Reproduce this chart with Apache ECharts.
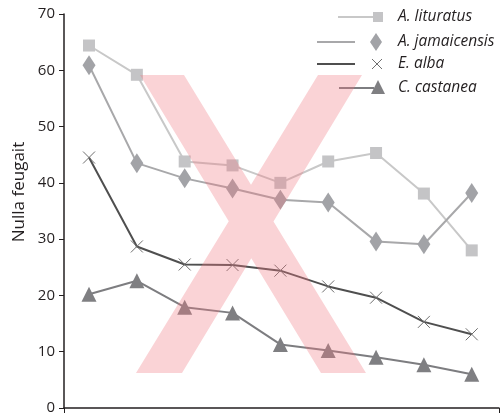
<!DOCTYPE html>
<html>
<head>
<meta charset="utf-8">
<script src="https://cdn.jsdelivr.net/npm/echarts@6/dist/echarts.min.js"></script>
<style>html,body{margin:0;padding:0;background:#fff}#c{width:504px;height:418px}</style>
</head>
<body>
<div id="c"></div>
<script>
var seriesNames = ['A. lituratus', 'A. jamaicensis', 'E. alba', 'C. castanea'];
var lituratus = [64.4, 59.2, 43.8, 43.1, 40.0, 43.8, 45.3, 38.1, 28.0];
var jamaicensis = [60.9, 43.5, 40.8, 39.0, 37.0, 36.5, 29.6, 29.1, 38.2];
var alba = [44.5, 28.7, 25.5, 25.4, 24.4, 21.6, 19.6, 15.3, 13.1];
var castanea = [20.2, 22.6, 17.9, 16.9, 11.3, 10.2, 9.0, 7.7, 6.0];
var yTicks = [0, 10, 20, 30, 40, 50, 60, 70];
var yName = 'Nulla feugait';

var FONT = '"Open Sans", "Noto Sans", sans-serif';
function pts(arr){ return arr.map(function(v,i){ return [i, v]; }); }
var xSym = 'path://M0,0L10,10M10,0L0,10';

var chart = echarts.init(document.getElementById('c'), null, {renderer:'canvas'});

// pink X decoration outline
function inter(a,b,c,d){
  var x1=a[0],y1=a[1],x2=b[0],y2=b[1],x3=c[0],y3=c[1],x4=d[0],y4=d[1];
  var den=(x1-x2)*(y3-y4)-(y1-y2)*(x3-x4);
  var t=((x1-x3)*(y3-y4)-(y1-y3)*(x3-x4))/den;
  return [x1+t*(x2-x1), y1+t*(y2-y1)];
}
var L1=[[140,75],[321,373]], R1=[[184,75],[366,373]];
var L2=[[318,75],[136,373]], R2=[[362,75],[182,373]];
var xPoly=[L1[0],R1[0],inter(R1[0],R1[1],L2[0],L2[1]),L2[0],R2[0],inter(R2[0],R2[1],R1[0],R1[1]),R1[1],L1[1],inter(L1[0],L1[1],R2[0],R2[1]),R2[1],L2[1],inter(L1[0],L1[1],L2[0],L2[1])];

var legendRows = [
  {y:17, x1:338, x2:374, sx:378, line:'#c8c8c8', sym:'rect', col:'#c4c4c6'},
  {y:42, x1:317, x2:355, sx:376, line:'#a8a8aa', sym:'diamond', col:'#a2a3a7'},
  {y:64, x1:317, x2:355, sx:377, line:'#4f4f4f', sym:'x', col:'#6f6f6f'},
  {y:88, x1:339, x2:374, sx:378, line:'#7d7d80', sym:'tri', col:'#7f7f82'}
];
var g = [];
legendRows.forEach(function(r, i){
  g.push({type:'line', shape:{x1:r.x1,y1:r.y,x2:r.x2,y2:r.y}, style:{stroke:r.line, lineWidth:2}, z:5});
  if (r.sym==='rect') g.push({type:'rect', shape:{x:r.sx-5,y:r.y-5,width:10,height:10}, style:{fill:r.col}, z:6});
  if (r.sym==='diamond') g.push({type:'polygon', shape:{points:[[r.sx,r.y-9],[r.sx+6,r.y],[r.sx,r.y+9],[r.sx-6,r.y]]}, style:{fill:r.col}, z:6});
  if (r.sym==='x') g.push({type:'polyline', shape:{points:[[r.sx-5,r.y-5],[r.sx+5,r.y+5]]}, style:{stroke:r.col, lineWidth:1}, z:6},
                          {type:'polyline', shape:{points:[[r.sx+5,r.y-5],[r.sx-5,r.y+5]]}, style:{stroke:r.col, lineWidth:1}, z:6});
  if (r.sym==='tri') g.push({type:'polygon', shape:{points:[[r.sx,r.y-8],[r.sx+7,r.y+6],[r.sx-7,r.y+6]]}, style:{fill:r.col}, z:6});
  g.push({type:'text', x:398, y:r.y, style:{text:seriesNames[i], font:'italic 15.5px '+FONT, fill:'#231f20', verticalAlign:'middle'}, z:6});
});
g.push({type:'text', x:19, y:192, rotation:Math.PI/2, style:{text:yName, font:'17px '+FONT, fill:'#231f20', align:'center', verticalAlign:'middle'}, z:6});
g.push({type:'polygon', shape:{points:xPoly}, style:{fill:'rgba(240,120,130,0.33)'}, z:100});

chart.setOption({
  animation:false,
  backgroundColor:'#fff',
  grid:{left:64, right:5, top:14, bottom:10},
  xAxis:{type:'value', min:-0.523, max:8.57, interval:9.093,
    axisLine:{onZero:false, lineStyle:{color:'#231f20', width:1.5}},
    axisTick:{show:true, length:5, lineStyle:{color:'#231f20'}},
    axisLabel:{show:false}, splitLine:{show:false}},
  yAxis:{type:'value', min:0, max:70, interval:10,
    axisLine:{show:true, onZero:false, lineStyle:{color:'#231f20', width:1.5}},
    axisTick:{show:true, length:5, lineStyle:{color:'#231f20'}},
    axisLabel:{fontSize:15, color:'#231f20', fontFamily:FONT, margin:9,
      formatter:function(v){ return yTicks.indexOf(v)>=0 ? String(v) : ''; }},
    splitLine:{show:false}},
  series:[
    {name:seriesNames[0], type:'line', data:pts(lituratus), symbol:'rect', symbolSize:12,
      lineStyle:{color:'#c8c8c8', width:2}, itemStyle:{color:'#c4c4c6'}, z:2},
    {name:seriesNames[1], type:'line', data:pts(jamaicensis), symbol:'diamond', symbolSize:[13,20],
      lineStyle:{color:'#a8a8aa', width:2}, itemStyle:{color:'#a2a3a7'}, z:3},
    {name:seriesNames[2], type:'line', data:pts(alba), symbol:xSym, symbolSize:12,
      lineStyle:{color:'#4f4f4f', width:2}, itemStyle:{color:'none', borderColor:'#6f6f6f', borderWidth:1}, z:4},
    {name:seriesNames[3], type:'line', data:pts(castanea), symbol:'triangle', symbolSize:[15,15],
      lineStyle:{color:'#7d7d80', width:2}, itemStyle:{color:'#7f7f82'}, z:5}
  ],
  graphic:g
});
</script>
</body>
</html>
